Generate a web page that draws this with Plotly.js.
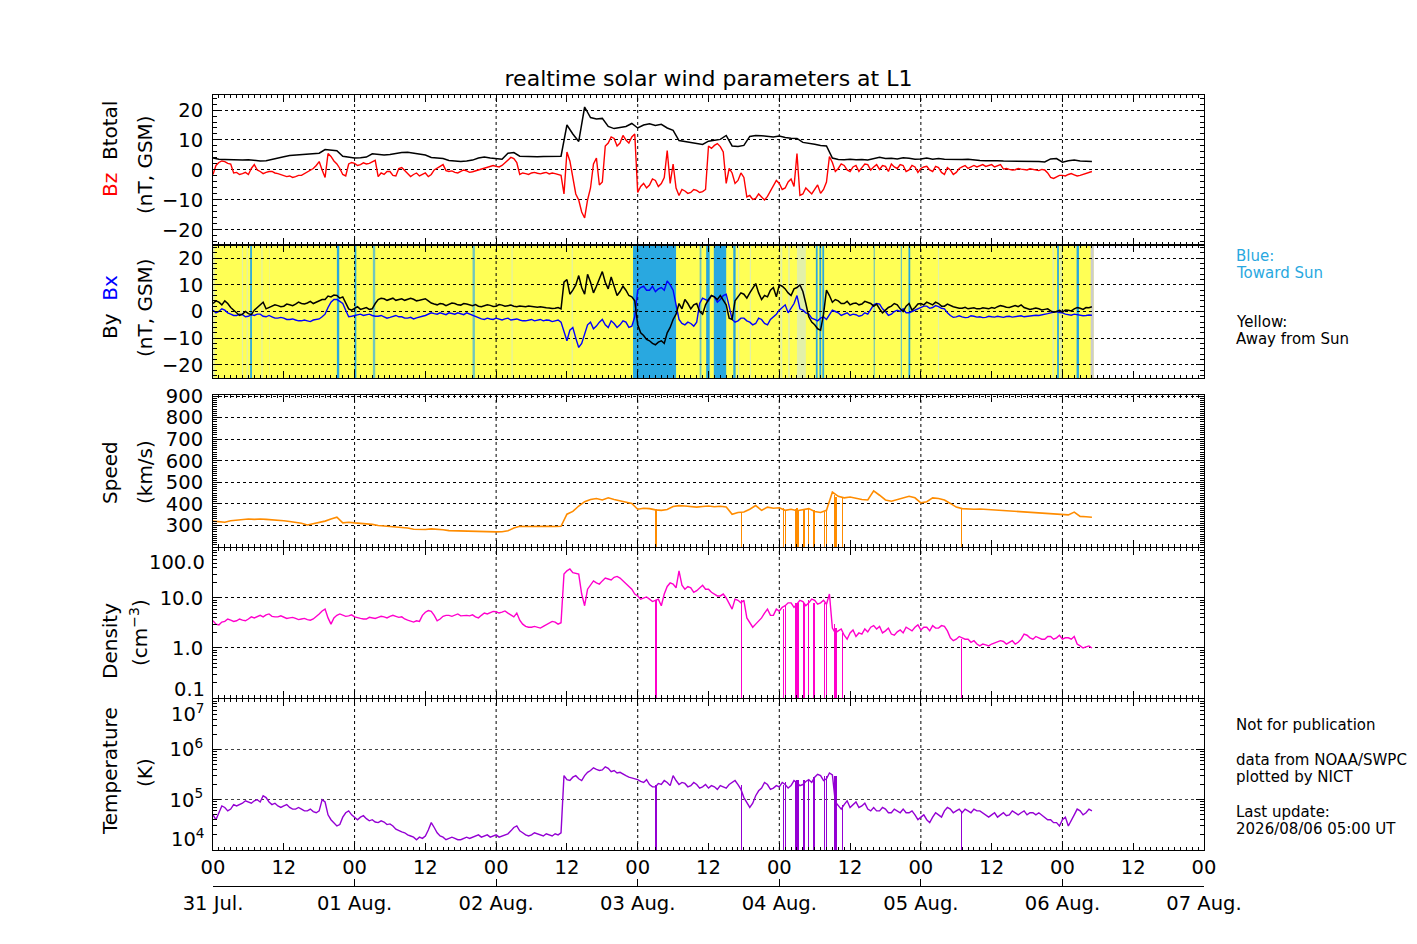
<!DOCTYPE html>
<html>
<head>
<meta charset="utf-8">
<script src="https://cdn.plot.ly/plotly-3.0.1.min.js"></script>
<style>
  html, body { margin: 0; padding: 0; background: #fff; }
  #chart { width: 1417px; height: 944px; }
</style>
</head>
<body>
<div id="chart"></div>
<script>
// Realtime solar wind at L1 ---------------------------------------------------
// time axis: hours since 31 Jul 00 UT, one sample per hour up to 06 Aug 05 UT;
// the noisy series also carry a half-hour sample (…Half arrays, at hour + 0.5)
const hours = Array.from({ length: 150 }, (_, i) => i);

const hourLabels = ['00', '12', '00', '12', '00', '12', '00', '12', '00', '12', '00', '12', '00', '12', '00'];
const dayLabels = ['31 Jul.', '01 Aug.', '02 Aug.', '03 Aug.', '04 Aug.', '05 Aug.', '06 Aug.', '07 Aug.'];

// ----- magnetic field (nT, GSM) -----
const btotal = [
    4.0, 3.6, 3.5, 3.4, 3.5, 3.3, 3.4, 3.2, 3.0, 3.1,
    3.6, 4.0, 4.4, 4.8, 5.0, 5.2, 5.3, 5.5, 5.6, 6.8,
    6.6, 6.4, 4.6, 4.2, 4.0, 4.1, 4.3, 5.4, 5.3, 5.0,
    5.2, 5.6, 5.8, 5.9, 5.6, 5.3, 5.0, 4.2, 4.0, 3.8,
    3.2, 3.0, 2.8, 3.0, 3.3, 4.0, 4.3, 4.0, 3.8, 3.6,
    5.6, 5.8, 4.6, 4.5, 4.5, 4.4, 4.5, 4.6, 4.5, 4.6,
    15.0, 12.0, 9.5, 21.0, 17.5, 17.0, 17.2, 14.5, 13.8, 14.2,
    14.5, 15.5, 14.0, 15.0, 15.4, 14.8, 15.2, 14.0, 13.2, 9.8,
    9.5, 9.0, 8.8, 8.5, 9.6, 9.8, 10.2, 11.5, 8.0, 7.8,
    8.2, 11.2, 11.5, 11.4, 11.2, 11.0, 11.3, 10.8, 10.6, 10.5,
    9.2, 9.0, 8.6, 8.2, 8.0, 4.0, 3.5, 3.4, 3.6, 3.4,
    3.5, 3.3, 3.8, 4.2, 3.8, 3.9, 3.7, 4.1, 3.9, 3.6,
    3.7, 4.0, 3.6, 3.8, 3.6, 3.5, 3.4, 3.5, 3.6, 3.3,
    3.2, 3.1, 3.2, 3.1, 3.0, 3.0, 3.0, 2.9, 2.9, 2.8,
    2.8, 2.7, 3.7, 3.8, 2.6, 3.1, 3.3, 3.0, 2.9, 2.8,
];
const bz = [
    -1.5, 2.5, 2.8, 2.0, -0.8, -1.2, -1.5, 1.8, -0.5, -0.8,
    -0.5, -1.2, -1.8, -2.0, -2.2, -1.8, -0.5, 0.5, 2.8, -2.5,
    4.5, 2.0, -1.5, 2.0, 2.2, 1.8, 2.0, 2.8, -2.2, -1.5,
    -0.5, -2.0, 0.8, -1.0, -1.5, -2.0, -1.0, -1.5, 0.5, 1.8,
    -0.5, -0.8, -0.5, -0.3, -0.6, -0.2, 0.5, 1.0, 1.2, 1.5,
    3.2, 3.8, -1.5, -1.2, -1.0, -1.1, -1.0, -1.3, -1.2, -1.8,
    6.0, -3.0, -10.0, -16.0, -6.0, 4.0, -4.0, 9.0, 10.5, 9.0,
    10.0, 11.0, -7.5, -4.5, -5.0, -3.5, -4.5, 6.5, 2.0, -8.5,
    -7.0, -7.5, -6.8, -7.2, 8.0, 8.2, 7.8, -4.5, -1.0, -3.5,
    -2.5, -8.5, -9.5, -9.0, -8.8, -5.5, -4.5, -6.0, -3.0, 5.5,
    -8.0, -7.0, -6.5, -7.8, -4.0, 2.5, 0.5, 1.5, -0.5, 1.5,
    0.8, 1.8, 1.0, 0.2, 1.2, 2.0, 0.5, 1.5, 0.0, 1.0,
    0.5, 1.2, -0.5, 0.8, -1.5, 0.0, -0.8, 1.0, 0.5, 1.5,
    1.5, 1.2, 1.8, 1.3, 0.3, 0.2, 0.1, 0.3, 0.0, 0.2,
    -0.2, 0.0, -2.5, -2.2, -1.8, -1.5, -1.6, -1.8, -1.2, -0.5,
];
const bzHalf = [
    1.5, 3.0, 2.2, -1.0, -1.5, -0.8, 0.5, 0.0, -1.2, -0.5,
    -1.0, -1.5, -2.2, -2.5, -1.8, -1.2, 0.0, 1.5, 0.0, 5.5,
    3.0, 0.5, -2.0, 2.5, 1.5, 2.4, 2.2, 3.2, -1.0, -0.5,
    -1.8, 0.5, -0.2, -2.2, -1.0, -1.5, -2.2, 0.0, 1.2, -0.2,
    -0.3, -1.0, 0.0, -0.8, -0.3, 0.2, 0.8, 1.5, 1.0, 2.5,
    4.2, 2.5, -1.0, -1.5, -0.8, -1.3, -0.8, -1.0, -1.5, -8.0,
    3.0, -8.0, -14.0, -10.0, 2.0, -5.0, 8.0, 11.0, 8.0, 11.5,
    9.0, 12.0, -5.5, -6.0, -3.0, -5.5, -2.5, -4.5, -6.0, -6.5,
    -7.8, -6.5, -7.5, -6.5, 7.2, 8.8, 6.0, 0.5, -4.5, -1.0,
    -9.0, -9.8, -8.0, -10.0, -7.0, -3.5, -6.5, -4.0, -5.5, -8.5,
    -6.0, -8.0, -5.0, -6.5, 4.5, -0.5, 2.0, 0.0, 1.0, -0.5,
    2.0, 0.0, 1.8, 1.5, -0.5, 1.0, 1.8, -0.5, 1.5, -0.8,
    1.0, 0.0, 1.2, -0.8, 0.8, -1.5, 0.5, 1.5, 1.0, 1.0,
    1.8, 1.5, 1.0, 1.8, 0.5, 0.0, 0.5, 0.1, 0.4, 0.0,
    0.2, -1.0, -2.8, -1.8, -2.0, -1.2, -2.0, -1.5, -1.0,
];
const by = [
    3.0, 3.5, 4.0, 1.5, -0.5, -1.0, -0.8, 0.5, 2.5, 1.0,
    1.8, 2.2, 2.0, 2.5, 2.8, 3.0, 3.2, 3.0, 4.0, 4.5,
    5.5, 6.0, 5.5, 1.0, 1.2, 0.8, 1.5, 1.0, 4.5, 4.8,
    4.5, 4.2, 4.8, 4.5, 4.6, 4.2, 4.8, 3.2, 2.5, 2.8,
    2.6, 3.0, 2.4, 2.8, 2.2, 2.0, 2.1, 2.3, 2.0, 2.4,
    2.2, 2.0, 2.1, 1.8, 1.9, 1.6, 1.5, 1.3, 1.2, 1.0,
    12.0, 8.0, 13.5, 6.5, 11.0, 9.5, 15.0, 8.5, 9.0, 7.5,
    8.0, 5.5, -5.0, -9.0, -11.0, -12.5, -11.0, -8.0, -3.0, 3.0,
    4.5, 1.0, 3.0, -1.0, 4.5, 5.5, 6.0, 2.5, -3.0, 5.5,
    6.5, 7.0, 10.5, 4.5, 5.5, 9.0, 10.0, 8.5, 6.0, 9.0,
    7.5, -2.0, -5.0, -7.0, 8.0, 3.5, 4.0, 3.0, 2.5, 3.2,
    2.8, 3.5, 2.0, 1.0, 0.5, 2.0, 2.5, 0.0, 3.0, 1.5,
    3.0, 3.5, 2.5, 3.0, 2.0, 2.2, 1.5, 1.2, 1.0, 1.4,
    1.0, 1.2, 1.5, 1.8, 2.0, 1.5, 2.2, 2.5, 1.2, 1.0,
    1.0, 0.8, 0.2, 0.0, -0.2, 0.5, 1.0, 1.2, 1.5, 1.8,
];
const byHalf = [
    4.0, 2.5, 3.0, 0.5, -1.5, 0.0, -1.2, 1.5, 3.5, 1.5,
    2.5, 1.8, 2.8, 2.2, 3.5, 2.8, 3.8, 3.5, 4.5, 5.8,
    6.2, 5.0, 3.0, 0.5, 1.8, 1.2, 0.8, 3.0, 5.0, 4.2,
    5.0, 4.6, 4.2, 5.0, 4.0, 4.5, 4.0, 2.8, 3.0, 2.2,
    3.2, 2.5, 3.0, 2.5, 2.6, 1.8, 2.5, 1.9, 2.6, 2.0,
    2.4, 1.8, 2.0, 2.1, 1.7, 1.8, 1.4, 1.1, 1.5, 11.0,
    6.5, 10.0, 9.0, 14.0, 7.0, 12.5, 11.0, 13.0, 6.0, 9.5,
    6.0, 4.0, -8.0, -10.5, -12.0, -11.5, -12.0, -6.0, -1.0, 1.0,
    3.0, 2.5, 0.0, 2.5, 6.0, 4.5, 4.0, -2.5, 4.0, 7.0,
    5.0, 9.0, 7.0, 6.0, 8.0, 5.5, 9.5, 7.0, 8.5, 10.0,
    3.0, -4.0, -6.5, -1.0, 6.0, 4.5, 3.0, 3.8, 3.0, 2.5,
    3.8, 3.0, 2.8, -0.5, 1.5, 3.0, 1.0, 2.0, 0.5, 2.8,
    2.5, 3.0, 3.5, 2.0, 2.8, 1.8, 1.2, 1.6, 1.2, 1.0,
    1.4, 1.0, 1.2, 2.2, 1.6, 2.0, 1.8, 1.5, 0.8, 1.3,
    0.6, 1.0, -0.3, 0.4, 0.6, 0.2, 1.5, 0.8, 1.4,
];
const bx = [
    0.5, 0.0, 0.5, -1.0, -1.5, -1.2, -1.8, -1.5, -1.0, -2.0,
    -2.0, -2.5, -2.5, -3.0, -3.2, -3.5, -3.5, -3.2, -2.8, -1.0,
    3.5, 4.5, 3.0, -2.0, -1.5, -1.0, -1.2, -1.5, -1.8, -2.0,
    -2.2, -1.5, -2.0, -2.5, -2.8, -2.0, -1.5, -0.5, -1.0, -0.8,
    -0.5, -1.0, -0.8, -0.5, -1.5, -2.5, -3.0, -2.8, -2.5, -3.2,
    -2.5, -3.0, -3.2, -3.5, -3.0, -3.2, -3.5, -3.3, -3.5, -4.0,
    -11.0, -6.0, -13.5, -8.0, -4.0, -5.5, -3.0, -6.0, -4.5, -5.0,
    -4.0, -5.5, 8.0, 9.5, 8.0, 7.5, 9.0, 11.5, 8.0, -3.0,
    -5.0, -4.5, -4.0, 5.0, 4.0, 5.5, 4.5, 6.5, -3.0, -3.5,
    -2.5, -4.0, -4.5, -3.0, -5.0, -2.0, 0.5, 2.5, 1.5, 6.0,
    0.5, -1.0, -3.0, -2.5, -3.0, 0.5, -0.5, -1.0, -1.5, -1.2,
    -1.5, -1.0, 2.5, 2.8, 0.0, -1.0, 0.5, 1.0, -0.5, 0.5,
    1.5, 2.0, 1.5, 1.8, 1.0, -1.5, -2.0, -2.0, -2.2, -1.8,
    -2.0, -2.2, -2.0, -1.8, -2.2, -1.8, -2.0, -1.6, -1.8, -1.5,
    -1.5, -1.2, -0.5, 0.0, -0.5, -1.2, -1.0, -1.3, -1.5, -1.4,
];
const bxHalf = [
    -0.5, 1.0, -0.5, -1.5, -1.0, -2.0, -1.2, -1.0, -1.8, -1.5,
    -2.5, -2.2, -3.0, -2.8, -3.5, -3.2, -3.8, -3.0, -2.0, 1.5,
    4.5, 3.8, 0.5, -1.8, -1.2, -1.5, -1.0, -1.8, -1.5, -2.5,
    -1.8, -2.0, -2.5, -2.2, -2.4, -1.8, -1.0, -0.8, -0.5, -1.2,
    -0.8, -0.5, -1.2, -1.0, -2.0, -2.8, -2.5, -3.0, -2.8, -2.8,
    -3.2, -2.8, -3.5, -3.2, -3.5, -3.0, -3.2, -3.8, -3.2, -8.0,
    -7.0, -10.0, -12.0, -5.0, -6.5, -4.0, -5.0, -3.5, -6.0, -3.5,
    -6.0, -2.0, 9.0, 8.0, 9.5, 8.5, 8.0, 10.0, 2.0, -4.5,
    -4.0, -5.5, 3.0, 4.5, 6.0, 3.5, 6.0, 2.0, -4.0, -2.5,
    -3.5, -5.0, -2.5, -4.5, -3.0, -1.0, 1.5, -0.5, 3.0, 1.0,
    -0.5, -2.5, -3.5, -2.0, -1.0, 0.0, -1.5, -0.5, -1.0, -1.8,
    -0.5, 1.0, 3.0, 1.0, -1.5, 0.0, 0.0, -0.5, 0.0, 1.0,
    2.0, 1.2, 2.2, 1.2, -0.5, -2.2, -1.6, -2.3, -1.6, -2.1,
    -2.3, -1.8, -2.1, -2.0, -1.9, -2.1, -1.7, -2.0, -1.6, -1.4,
    -1.3, -0.8, -0.2, -0.4, -1.0, -1.4, -1.2, -1.6, -1.3,
];

// IMF sector stripes behind By/Bx: Y away, T toward, c/m mixed, g no data
const bandStart = [0, 0, 4.9, 5.7, 6.3, 8.2, 9.5, 21.0, 24.0, 27.1, 44.0, 50.6, 60.8, 71.2, 82.5, 83.6, 84.9, 88.2, 89.0, 91.0, 96.2, 97.5, 99.0, 102.2, 102.8, 103.3, 112.0, 116.6, 117.9, 122.9, 142.3, 143.1, 143.6, 146.4, 148.8];
const bandEnd = [149.3, 0.3, 5.1, 5.9, 6.6, 8.4, 9.6, 21.4, 24.3, 27.5, 44.4, 50.8, 61.0, 78.5, 82.8, 84.2, 87.0, 88.6, 89.2, 91.2, 96.5, 97.8, 100.5, 102.5, 103.1, 103.6, 112.2, 116.8, 118.2, 123.1, 142.6, 143.4, 143.9, 146.8, 149.3];
const bandKind = ['Y', 'm', 'm', 'm', 'T', 'm', 'm', 'T', 'T', 'c', 'c', 'm', 'm', 'T', 'c', 'T', 'T', 'T', 'm', 'm', 'm', 'm', 'm', 'T', 'T', 'T', 'c', 'c', 'T', 'm', 'm', 'T', 'm', 'T', 'g'];

// ----- plasma -----
const speed = [
    320, 318, 315, 322, 325, 328, 330, 328, 330, 328,
    327, 325, 322, 318, 315, 310, 302, 308, 315, 320,
    330, 338, 312, 315, 312, 310, 308, 305, 300, 298,
    296, 292, 290, 288, 282, 280, 281, 284, 283, 280,
    276, 275, 274, 272, 272, 270, 269, 270, 270, 271,
    275, 288, 296, 295, 296, 295, 295, 296, 295, 296,
    352, 365, 390, 410, 420, 425, 418, 428, 420, 415,
    410, 402, 375, 380, 378, 372, 370, 374, 388, 392,
    390, 388, 385, 388, 390, 387, 389, 386, 352, 360,
    362, 375, 392, 370, 385, 380, 382, 370, 375, 368,
    372, 378, 365, 360, 370, 455, 435, 428, 432, 425,
    420, 418, 460, 440, 418, 412, 420, 425, 435, 428,
    405, 410, 428, 425, 418, 402, 385, 378, 376, 375,
    376, 374, 372, 370, 369, 367, 366, 362, 360, 359,
    358, 357, 355, 353, 350, 349, 362, 342, 340, 338,
];
const density = [
    3.5, 2.9, 3.4, 3.6, 3.5, 3.6, 3.8, 4.0, 4.5, 4.6,
    4.3, 4.2, 4.1, 4.0, 3.9, 3.8, 3.7, 3.8, 4.8, 6.0,
    3.0, 4.5, 4.6, 4.4, 4.2, 3.9, 3.8, 4.0, 4.1, 4.2,
    4.3, 4.3, 4.2, 3.6, 3.3, 3.4, 5.2, 5.4, 3.5, 4.3,
    4.5, 4.6, 4.4, 4.5, 4.6, 4.0, 5.0, 5.1, 5.3, 5.2,
    5.0, 4.2, 3.6, 2.7, 2.6, 2.6, 2.7, 3.1, 3.3, 3.2,
    35, 32, 30, 7, 18, 20, 22, 24, 26, 25,
    20, 15, 11, 10, 9.5, 9.0, 7.0, 17, 19, 35,
    15, 16, 14, 18, 15, 12, 11, 10, 6, 9,
    9, 3.2, 3.0, 4.0, 6.0, 4.5, 5.5, 7, 8, 7.5,
    8.5, 8, 9, 8, 7.5, 2.5, 2.2, 1.8, 2.0, 1.7,
    1.9, 2.1, 2.8, 2.7, 2.2, 1.9, 2.1, 2.0, 2.4, 2.6,
    2.3, 2.6, 2.8, 2.5, 2.7, 1.6, 1.5, 1.6, 1.5, 1.4,
    1.1, 1.15, 1.2, 1.3, 1.35, 1.3, 1.2, 1.5, 1.8, 1.5,
    1.6, 1.5, 1.7, 1.6, 1.5, 1.6, 1.7, 1.1, 1.05, 1.0,
];
const densityHalf = [
    3.0, 3.3, 3.8, 3.4, 3.8, 3.5, 4.2, 4.3, 4.2, 4.8,
    4.2, 4.4, 3.9, 4.1, 3.7, 3.9, 3.6, 4.2, 5.5, 4.0,
    4.0, 4.8, 4.3, 4.6, 4.0, 3.8, 4.1, 3.9, 4.3, 4.0,
    4.5, 4.1, 3.8, 3.4, 3.5, 4.5, 5.6, 4.5, 3.8, 4.5,
    4.3, 4.8, 4.5, 4.4, 4.2, 4.5, 4.8, 5.4, 5.0, 5.5,
    4.5, 5.0, 3.0, 2.6, 2.7, 2.5, 2.9, 3.4, 3.0, 30,
    38, 31, 12, 15, 22, 19, 25, 23, 27, 22,
    17, 12, 9.5, 10.5, 8.5, 9.5, 12, 20, 16, 18,
    17, 13, 16, 15, 13, 11, 12, 8, 9.5, 8,
    4.0, 2.6, 3.5, 5.0, 4.5, 6.0, 6.5, 8, 6.5, 9,
    7, 9.5, 7.5, 9, 12, 2.0, 2.4, 1.5, 2.3, 2.0,
    2.4, 2.6, 2.4, 2.0, 2.5, 1.8, 2.3, 2.6, 2.2, 2.9,
    2.6, 2.2, 2.5, 2.8, 2.2, 1.4, 1.7, 1.5, 1.3, 1.2,
    1.2, 1.1, 1.25, 1.4, 1.2, 1.4, 1.3, 1.9, 1.6, 1.7,
    1.5, 1.7, 1.5, 1.8, 1.6, 1.5, 1.2, 1.0, 1.1,
];
const temperature = [
    5.0e4, 5.5e4, 7.0e4, 6.5e4, 7.5e4, 8.5e4, 9.0e4, 9.5e4, 9.0e4, 1.1e5,
    8.0e4, 7.5e4, 7.5e4, 7.0e4, 6.5e4, 6.5e4, 6.0e4, 5.8e4, 6.0e4, 9.0e4,
    4.0e4, 3.0e4, 4.5e4, 6.0e4, 4.5e4, 4.5e4, 4.2e4, 4.0e4, 3.5e4, 3.6e4,
    3.3e4, 2.6e4, 2.3e4, 2.0e4, 1.8e4, 1.8e4, 1.9e4, 3.5e4, 2.2e4, 1.8e4,
    1.7e4, 1.7e4, 1.6e4, 1.8e4, 1.8e4, 2.0e4, 1.9e4, 1.8e4, 2.0e4, 1.9e4,
    2.1e4, 2.8e4, 2.4e4, 2.0e4, 2.0e4, 2.1e4, 1.9e4, 2.0e4, 2.1e4, 2.2e4,
    2.5e5, 2.8e5, 2.6e5, 3.0e5, 3.8e5, 4.0e5, 3.9e5, 4.2e5, 3.8e5, 3.5e5,
    3.0e5, 2.7e5, 2.5e5, 2.2e5, 2.0e5, 1.8e5, 2.0e5, 2.2e5, 3.0e5, 2.0e5,
    2.1e5, 1.9e5, 2.0e5, 1.8e5, 1.7e5, 1.8e5, 1.9e5, 1.7e5, 2.2e5, 2.0e5,
    1.1e5, 7.0e4, 1.2e5, 1.7e5, 2.0e5, 1.7e5, 1.8e5, 2.0e5, 1.9e5, 2.2e5,
    2.0e5, 2.5e5, 2.8e5, 3.0e5, 2.6e5, 3.1e5, 7.5e4, 8.0e4, 7.0e4, 9.0e4,
    7.5e4, 6.5e4, 7.0e4, 6.0e4, 6.5e4, 5.5e4, 6.0e4, 6.5e4, 5.5e4, 5.0e4,
    4.5e4, 4.0e4, 4.5e4, 5.0e4, 6.0e4, 6.5e4, 6.0e4, 5.5e4, 6.0e4, 6.5e4,
    6.0e4, 5.0e4, 5.0e4, 4.5e4, 5.5e4, 5.0e4, 5.5e4, 5.5e4, 5.0e4, 5.5e4,
    5.5e4, 4.5e4, 4.0e4, 3.5e4, 4.0e4, 3.0e4, 5.0e4, 6.0e4, 5.5e4, 6.0e4,
];
const temperatureHalf = [
    4.0e4, 7.5e4, 6.0e4, 8.0e4, 8.0e4, 9.5e4, 8.5e4, 1.0e5, 1.2e5, 9.0e4,
    8.5e4, 7.0e4, 8.0e4, 6.5e4, 7.0e4, 6.0e4, 6.5e4, 5.5e4, 1.0e5, 5.0e4,
    3.5e4, 3.2e4, 5.5e4, 5.0e4, 4.0e4, 4.8e4, 3.8e4, 3.6e4, 3.8e4, 3.2e4,
    3.0e4, 2.4e4, 2.2e4, 1.9e4, 1.6e4, 1.7e4, 2.5e4, 2.8e4, 1.9e4, 1.6e4,
    1.8e4, 1.6e4, 1.7e4, 1.7e4, 1.9e4, 1.8e4, 2.0e4, 1.9e4, 1.8e4, 2.0e4,
    2.4e4, 3.0e4, 2.2e4, 1.9e4, 2.2e4, 2.0e4, 2.1e4, 1.9e4, 2.0e4, 3.0e5,
    2.4e5, 3.0e5, 2.4e5, 3.5e5, 4.3e5, 3.8e5, 4.5e5, 3.6e5, 3.4e5, 3.2e5,
    2.8e5, 2.6e5, 2.3e5, 2.5e5, 1.8e5, 2.1e5, 2.4e5, 1.9e5, 2.4e5, 2.2e5,
    1.8e5, 2.2e5, 1.7e5, 2.0e5, 1.9e5, 1.6e5, 1.8e5, 2.0e5, 2.4e5, 1.6e5,
    9.0e4, 8.5e4, 1.5e5, 2.2e5, 1.6e5, 1.9e5, 2.2e5, 1.7e5, 2.4e5, 1.9e5,
    2.3e5, 2.2e5, 3.2e5, 2.4e5, 3.4e5, 9.0e4, 6.5e4, 9.5e4, 8.0e4, 7.0e4,
    8.5e4, 6.0e4, 6.0e4, 7.0e4, 5.5e4, 6.5e4, 5.5e4, 5.5e4, 6.0e4, 4.0e4,
    5.0e4, 3.5e4, 5.5e4, 4.5e4, 7.0e4, 5.5e4, 6.5e4, 6.5e4, 5.5e4, 6.0e4,
    5.5e4, 4.5e4, 5.5e4, 5.0e4, 4.8e4, 6.0e4, 5.0e4, 6.0e4, 5.5e4, 5.0e4,
    5.0e4, 4.0e4, 3.5e4, 3.0e4, 4.5e4, 4.0e4, 6.5e4, 5.0e4, 6.5e4,
];

// data dropouts (plasma drops to fill value) and the level the line falls from
const dropT = [75.1, 89.6, 96.7, 97.1, 98.7, 99.0, 99.3, 100.2, 101.0, 101.8, 102.0, 103.6, 104.0, 105.3, 105.6, 106.7, 126.9];
const dropSpeed = [378, 360, 380, 370, 375, 380, 370, 370, 375, 372, 370, 360, 370, 440, 430, 430, 378];
const dropDens = [9, 9, 6, 7, 8, 8, 8, 8, 9, 8, 8, 8, 7.5, 3, 2.5, 2, 1.5];
const dropTemp = [2e5, 2e5, 2e5, 2.2e5, 2.2e5, 2.5e5, 2.5e5, 2.5e5, 2.5e5, 2.8e5, 2.8e5, 3e5, 3e5, 3e5, 3e5, 8e4, 6e4];

// ----- layout helpers -----
const FONT = '"DejaVu Sans", Verdana, sans-serif';
const PX = x => (x - 213) / 991;   // figure pixel -> paper x
const PY = y => (886 - y) / 791;   // figure pixel -> paper y

const domains = [[0.8104, 1], [0.6422, 0.8104], [0.4286, 0.6207], [0.2377, 0.4273], [0.0455, 0.2364]];
const xTicks = hourLabels.map((_, i) => i * 12);
const dayTicks = dayLabels.map((_, i) => i * 24);

function minorLog(lo, hi) {
    const out = [];
    for (let d = lo; d < hi; d *= 10) for (let k = 2; k <= 9; k++) out.push(d * k);
    return out;
}

// merge hourly values with their half-hour companions in time order
function withHalf(whole, half) {
    const x = [], y = [];
    whole.forEach((v, i) => {
        x.push(hours[i]); y.push(v);
        if (i < half.length) { x.push(hours[i] + 0.5); y.push(half[i]); }
    });
    return { x, y };
}

const xBase = {
    domain: [0, 1], range: [0, 168], fixedrange: true,
    showgrid: false, zeroline: false,
    showline: true, linecolor: 'black', linewidth: 1, mirror: 'ticks',
    ticks: 'inside', ticklen: 7, tickcolor: 'black',
    tickmode: 'array', tickvals: xTicks, ticktext: hourLabels,
    tickfont: { size: 19.5 }, ticklabelstandoff: 0,
    minor: { ticks: 'inside', ticklen: 3, dtick: 1, tick0: 0, tickcolor: 'black' },
};
const yBase = {
    fixedrange: true, zeroline: false,
    showline: true, linecolor: 'black', linewidth: 1, mirror: 'ticks',
    ticks: 'inside', ticklen: 8, tickcolor: 'black',
    showgrid: true, gridcolor: 'black', griddash: 'dot', gridwidth: 1,
    tickfont: { size: 19.5 }, ticklabelstandoff: 5,
};

const layout = {
    width: 1417, height: 944,
    margin: { l: 213, r: 213, t: 95, b: 58 },
    paper_bgcolor: 'white', plot_bgcolor: 'rgba(0,0,0,0)',
    showlegend: false, bargap: 0,
    font: { family: FONT, size: 20, color: 'black' },
    title: {
        text: 'realtime solar wind parameters at L1',
        x: 0.5, xref: 'paper', xanchor: 'center',
        y: 1 - 78 / 944, yref: 'container', yanchor: 'middle',
        font: { size: 22 },
    },
    yaxis: { ...yBase, domain: domains[0], anchor: 'x', range: [-25, 25], tickvals: [-20, -10, 0, 10, 20],
        minor: { ticks: 'inside', ticklen: 4, dtick: 2, tick0: 0, tickcolor: 'black' } },
    yaxis2: { ...yBase, domain: domains[1], anchor: 'x2', range: [-25, 25], tickvals: [-20, -10, 0, 10, 20],
        minor: { ticks: 'inside', ticklen: 4, dtick: 2, tick0: 0, tickcolor: 'black' } },
    yaxis3: { ...yBase, domain: domains[2], anchor: 'x3', range: [200, 905], tickvals: [300, 400, 500, 600, 700, 800, 900],
        minor: { ticks: 'inside', ticklen: 4, dtick: 10, tick0: 0, tickcolor: 'black' } },
    yaxis4: { ...yBase, domain: domains[3], anchor: 'x4', type: 'log', range: [-1, 2],
        tickvals: [1, 10], ticktext: ['1.0', '10.0'],
        minor: { ticks: 'inside', ticklen: 4, tickmode: 'array', tickvals: minorLog(0.1, 100), tickcolor: 'black' } },
    yaxis5: { ...yBase, domain: domains[4], anchor: 'x5', type: 'log', range: [4, 7],
        tickvals: [1e5, 1e6], ticktext: ['10<sup>5</sup>', '10<sup>6</sup>'], gridcolor: '#444',
        minor: { ticks: 'inside', ticklen: 4, tickmode: 'array', tickvals: minorLog(1e4, 1e7), tickcolor: 'black' } },
    xaxis: { ...xBase, anchor: 'y', showticklabels: false },
    xaxis2: { ...xBase, anchor: 'y2', showticklabels: false },
    xaxis3: { ...xBase, anchor: 'y3', showticklabels: false },
    xaxis4: { ...xBase, anchor: 'y4', showticklabels: false },
    xaxis5: { ...xBase, anchor: 'y5', showticklabels: true },
    // date row underneath the hour labels
    xaxis6: {
        overlaying: 'x5', anchor: 'free', position: 0, side: 'bottom',
        range: [0, 168], fixedrange: true, showgrid: false, zeroline: false,
        showline: true, linecolor: 'black', linewidth: 1,
        ticks: 'inside', ticklen: 7, tickcolor: 'black',
        tickmode: 'array', tickvals: dayTicks, ticktext: dayLabels,
        tickfont: { size: 19.5 }, ticklabelstandoff: 0,
    },
    shapes: [],
    annotations: [],
};

// sector background, then dotted day grid on every panel
const bandColor = { Y: '#ffff55', T: '#29a8e0', c: '#72c6bc', m: '#e2f0a8', g: '#cccccc' };
bandStart.forEach((s, i) => {
    layout.shapes.push({
        type: 'rect', layer: 'below', xref: 'x2', yref: 'y2 domain',
        x0: s, x1: bandEnd[i], y0: 0, y1: 1,
        fillcolor: bandColor[bandKind[i]], line: { width: 0 },
    });
});
['', '2', '3', '4', '5'].forEach(n => {
    dayTicks.slice(1, -1).forEach(d => {
        layout.shapes.push({
            type: 'line', layer: 'below', xref: 'x' + n, yref: 'y' + n + ' domain',
            x0: d, x1: d, y0: 0, y1: 1,
            line: { color: 'black', width: 1, dash: 'dot' },
        });
    });
});

// axis titles (two stacked rotated lines per panel)
const ytitles = [
    { x: 110, y: 149, t: '<span style="color:#ff0000">Bz</span>\u00a0\u00a0Btotal' },
    { x: 145, y: 165, t: '(nT, GSM)' },
    { x: 110, y: 307, t: 'By\u00a0\u00a0<span style="color:#0000ff">Bx</span>' },
    { x: 145, y: 308, t: '(nT, GSM)' },
    { x: 110, y: 473, t: 'Speed' },
    { x: 145, y: 472, t: '(km/s)' },
    { x: 110, y: 641, t: 'Density' },
    { x: 139, y: 633, t: '(cm<sup>\u22123</sup>)' },
    { x: 110, y: 771, t: 'Temperature' },
    { x: 145, y: 773, t: '(K)' },
];
ytitles.forEach(a => layout.annotations.push({
    xref: 'paper', yref: 'paper', x: PX(a.x), y: PY(a.y), text: a.t, textangle: -90,
    xanchor: 'center', yanchor: 'middle', showarrow: false, font: { size: 20 },
}));

// end labels of the log panels sit inside the frame
[
    { y: 562, t: '100.0' }, { y: 689, t: '0.1' },
    { y: 713, t: '10<sup>7</sup>' }, { y: 838, t: '10<sup>4</sup>' },
].forEach(a => layout.annotations.push({
    xref: 'paper', yref: 'paper', x: PX(207), y: PY(a.y), text: a.t,
    xanchor: 'right', yanchor: 'middle', showarrow: false, font: { size: 19.5 },
}));

// notes on the right, one line each
[
    { y: 256, t: 'Blue:', c: '#29a8e0' },
    { y: 273, t: 'Toward Sun', c: '#29a8e0' },
    { y: 322, t: 'Yellow:', c: 'black' },
    { y: 339, t: 'Away from Sun', c: 'black' },
    { y: 725, t: 'Not for publication', c: 'black' },
    { y: 760, t: 'data from NOAA/SWPC', c: 'black' },
    { y: 777, t: 'plotted by NICT', c: 'black' },
    { y: 812, t: 'Last update:', c: 'black' },
    { y: 829, t: '2026/08/06 05:00 UT', c: 'black' },
].forEach(a => layout.annotations.push({
    xref: 'paper', yref: 'paper', x: PX(1234), y: PY(a.y), text: a.t, align: 'left',
    xanchor: 'left', yanchor: 'middle', showarrow: false, font: { size: 15, color: a.c },
}));

// ----- traces -----
const line = (xy, color, xa, ya, w) => ({
    type: 'scatter', mode: 'lines', x: xy.x, y: xy.y,
    line: { color, width: w }, xaxis: xa, yaxis: ya, hoverinfo: 'skip',
});
const drops = (top, floor, color, xa, ya) => ({
    type: 'bar', x: dropT, base: floor, y: top.map(v => v - floor), width: 0.2,
    marker: { color, line: { width: 0 } }, xaxis: xa, yaxis: ya, hoverinfo: 'skip',
});

const traces = [
    line(withHalf(bz, bzHalf), '#ff0000', 'x', 'y', 1.4),
    line({ x: hours, y: btotal }, 'black', 'x', 'y', 1.5),
    line(withHalf(bx, bxHalf), '#0000ff', 'x2', 'y2', 1.4),
    line(withHalf(by, byHalf), 'black', 'x2', 'y2', 1.5),
    drops(dropSpeed, 200, '#ff8c00', 'x3', 'y3'),
    line({ x: hours, y: speed }, '#ff8c00', 'x3', 'y3', 1.6),
    drops(dropDens, 0.1, '#ff00cc', 'x4', 'y4'),
    line(withHalf(density, densityHalf), '#ff00cc', 'x4', 'y4', 1.4),
    drops(dropTemp, 1e4, '#9400d3', 'x5', 'y5'),
    line(withHalf(temperature, temperatureHalf), '#9400d3', 'x5', 'y5', 1.4),
    { type: 'scatter', mode: 'lines', x: [], y: [], xaxis: 'x6', yaxis: 'y5', hoverinfo: 'skip' },
];

Plotly.newPlot('chart', traces, layout, { displayModeBar: false, responsive: false, staticPlot: true });
</script>
</body>
</html>
